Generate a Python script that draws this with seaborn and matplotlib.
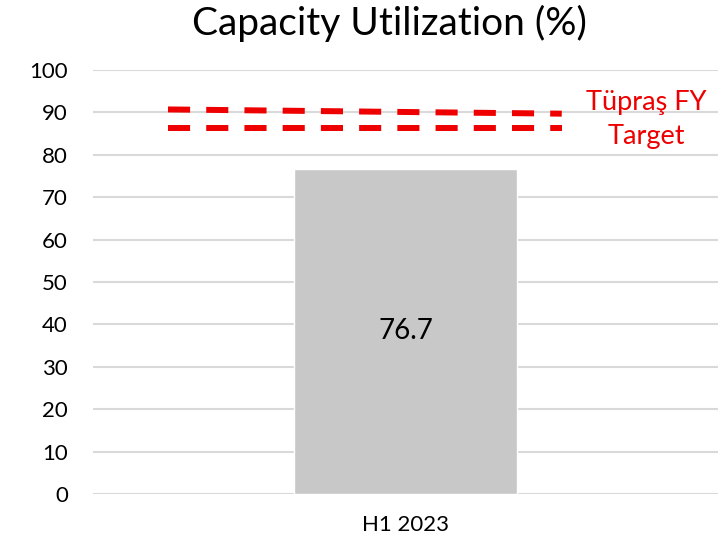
import matplotlib
matplotlib.use("Agg")
import matplotlib.pyplot as plt
import seaborn as sns
import pandas as pd

# data
categories = ["H1 2023"]
utilization = [76.7]
target_x = [-0.38, 0.25]
target_upper = [90.7, 89.7]
target_lower = [86.3, 86.3]
target_label = "Tüpraş FY\nTarget"
y_ticks = list(range(0, 101, 10))

sns.set_theme(style="white")
plt.rcParams["font.family"] = ["Lato", "DejaVu Sans"]

df = pd.DataFrame({"period": categories, "value": utilization})

fig = plt.figure(figsize=(7.23, 5.45), dpi=100)
ax = fig.add_axes([93 / 723, 1 - 494 / 545, 625 / 723, 424 / 545])

sns.barplot(data=df, x="period", y="value", color="#C8C8C8", width=0.357,
            saturation=1, ax=ax, zorder=2)

# target lines
red = "#EE0000"
for ys in (target_upper, target_lower):
    ax.plot(target_x, ys, color=red, lw=4.3, dashes=(3.7, 2.7), zorder=3,
            solid_capstyle="butt", dash_capstyle="butt")
ax.text(0.386, 88.4, target_label, color=red, fontsize=19.5, ha="center",
        va="center", linespacing=1.45)

# value label
for i, v in enumerate(utilization):
    ax.text(i, v / 2, f"{v}", ha="center", va="center", fontsize=20,
            color="#000000")

ax.set_xlim(-0.5, 0.5)
ax.set_ylim(0, 100)
ax.set_yticks(y_ticks)
ax.yaxis.grid(True, color="#D9D9D9", lw=1.5, zorder=0)
ax.set_axisbelow(True)
for s in ax.spines.values():
    s.set_visible(False)
ax.tick_params(axis="y", length=0, pad=18, labelsize=16, labelcolor="#000000")
ax.tick_params(axis="x", length=0, pad=15, labelsize=16, labelcolor="#000000")
ax.set_xlabel("")
ax.set_ylabel("")

fig.text(389 / 723, 1 - 23 / 545, "Capacity Utilization (%)", ha="center",
         va="center", fontsize=28, color="#000000")

fig.savefig("out.png", dpi=100)
